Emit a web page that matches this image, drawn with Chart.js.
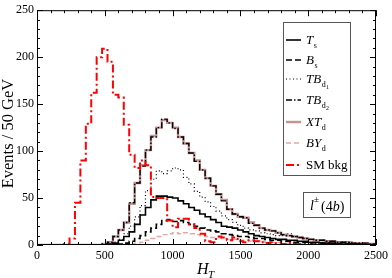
<!DOCTYPE html>
<html>
<head>
<meta charset="utf-8">
<script src="https://cdn.jsdelivr.net/npm/chart.js@4/dist/chart.umd.min.js"></script>
<style>
  html, body { margin:0; padding:0; background:#fff; }
  #wrap { width:392px; height:278px; position:relative; }
</style>
</head>
<body>
<div id="wrap"><canvas id="c" width="392" height="278"></canvas></div>
<script>
// ── Data ──────────────────────────────────────────────────────
// H_T histograms, 40 GeV bins starting at 0 (index k -> [40k, 40k+40))
const BIN_W = 40;

const Ts   = [0,0,0,0,0,0,0,0,0,0,0,0,0,0,1,2,5,9,14,22,32,40,48,52,52,51,50,47,44,40,37,33,30,27,24,20,19,18,16,14,12,10,9,8,7,6,6,5,5,4,4,3,3,2,2,2,1,1,1,1,1,0,0];
const Bs   = [0,0,0,0,0,0,0,0,0,0,0,0,0,0,0,0,1,2,4,7,10,14,18,22,26,27,25,26,24,22,20,18,16,15,14,12,11,10,9,9,8,7,7,6,5,5,4,4,3,3,3,2,2,2,2,1,1,1,1,1,0,0,0];
const TBd1 = [0,0,0,0,0,0,0,0,0,0,0,0,0,0,1,3,6,12,20,30,42,58,70,79,76,79,82,80,72,65,57,51,46,41,36,31,27,24,21,18,16,15,13,12,11,10,10,12,9,8,7,6,5,5,4,4,3,3,2,2,2,1,1];
const TBd2 = [0,0,0,0,0,0,0,0,0,0,0,0,0,1,3,9,16,24,45,66,84,101,115,125,134,130,124,115,108,98,89,80,71,63,54,47,38,33,30,29,23,21,18,16,15,13,11,10,9,8,7,6,5,5,4,4,3,3,3,2,2,2,1];
const XTd  = [0,0,0,0,0,0,0,0,0,0,0,0,0,1,3,9,16,24,44,66,85,101,116,125,133,130,125,115,108,98,90,80,71,63,54,48,38,33,30,29,24,21,18,16,15,13,11,10,9,8,7,6,5,5,4,4,3,3,3,2,2,2,1];
const BYd  = [0,0,0,0,0,0,0,0,0,0,0,0,0,0,0,0,0,0,1,2,3,5,7,9,11,12,13,12,13,12,11,10,9,8,8,7,6,6,5,5,4,4,4,3,3,3,2,2,2,2,1,1,1,1,1,1,0,0,0,0,0,0,0];
const SM   = [0,0,0,0,0,0,1,7,45,90,129,162,200,209,195,160,157,128,96,82,90,85,51,50,50,26,19,28,28,22,18,12,4,3,9,8,5,8,4,3,5,4,3,2,3,2,1,2,1,1,1,0,1,0,0,0,0,0,0,0,0,0,0];

const X_TICKS = [0, 500, 1000, 1500, 2000, 2500];
const Y_TICKS = [0, 50, 100, 150, 200, 250];

// legend labels: [italic main, subscript, sub-subscript]
const LABELS = [
  ['T', 's', ''],
  ['B', 's', ''],
  ['TB', 'd', '1'],
  ['TB', 'd', '2'],
  ['XT', 'd', ''],
  ['BY', 'd', ''],
  ['SM bkg', '', ''],
];

// ── Helpers ───────────────────────────────────────────────────
function toSteps(vals) {
  const pts = vals.map((v, k) => ({ x: k * BIN_W, y: v }));
  pts.push({ x: vals.length * BIN_W, y: vals[vals.length - 1] });
  return pts;
}

const SERIF = '"Liberation Serif", "DejaVu Serif", serif';

const series = [
  { data: Ts,   color:'#000000', width:1.6, dash:[] },
  { data: Bs,   color:'#000000', width:1.6, dash:[6,3] },
  { data: TBd1, color:'#000000', width:1.2, dash:[1,2.5] },
  { data: TBd2, color:'#000000', width:1.4, dash:[6,2,1.5,2] },
  { data: XTd,  color:'#c89090', width:2.4, dash:[] },
  { data: BYd,  color:'#e0a8a8', width:1.4, dash:[5,3] },
  { data: SM,   color:'#ff0000', width:2,   dash:[8,3,2,3] },
];

// draw order: XT_d underneath the black dash-dot it hides
const drawOrder = [4, 5, 0, 1, 2, 3, 6];

// ── Extras drawn on the canvas ────────────────────────────────
function drawLabel(ctx, x, y, lab, size) {
  const [main, sub, sub2] = lab;
  ctx.textBaseline = 'alphabetic';
  ctx.textAlign = 'left';
  const italic = sub !== '';
  ctx.font = (italic ? 'italic ' : '') + size + 'px ' + SERIF;
  ctx.fillText(main, x, y);
  let cx = x + ctx.measureText(main).width;
  if (sub) {
    ctx.font = (size * 0.62) + 'px ' + SERIF;
    ctx.fillText(sub, cx + 0.5, y + size * 0.3);
    cx += ctx.measureText(sub).width + 0.5;
    if (sub2) {
      ctx.font = (size * 0.45) + 'px ' + SERIF;
      ctx.fillText(sub2, cx + 0.3, y + size * 0.45);
    }
  }
}

const frame = {
  id: 'frame',
  afterDatasetsDraw(chart) {
    const { ctx, chartArea: a, scales: { x, y } } = chart;
    ctx.save();
    ctx.strokeStyle = '#000';
    ctx.lineWidth = 1;
    ctx.strokeRect(a.left + 0.5, a.top + 0.5, a.right - a.left - 1, a.bottom - a.top - 1);

    ctx.beginPath();
    for (let v = 0; v <= 2500; v += 100) {
      const px = Math.round(x.getPixelForValue(v)) + 0.5;
      const len = v % 500 === 0 ? 6 : 3;
      ctx.moveTo(px, a.bottom); ctx.lineTo(px, a.bottom - len);
      ctx.moveTo(px, a.top);    ctx.lineTo(px, a.top + len);
    }
    for (let v = 0; v <= 250; v += 10) {
      const py = Math.round(y.getPixelForValue(v)) + 0.5;
      const len = v % 50 === 0 ? 6 : 3;
      ctx.moveTo(a.left, py);  ctx.lineTo(a.left + len, py);
      ctx.moveTo(a.right, py); ctx.lineTo(a.right - len, py);
    }
    ctx.stroke();

    ctx.fillStyle = '#000';
    // y title
    ctx.save();
    ctx.translate(9, (a.top + a.bottom) / 2 + 6);
    ctx.rotate(-Math.PI / 2);
    ctx.font = '16.5px ' + SERIF;
    ctx.textAlign = 'center';
    ctx.textBaseline = 'middle';
    ctx.fillText('Events / 50 GeV', 0, 0);
    ctx.restore();

    // x title H_T
    ctx.font = 'italic 16px ' + SERIF;
    ctx.textAlign = 'left';
    ctx.textBaseline = 'alphabetic';
    ctx.fillText('H', 197, 274);
    ctx.font = 'italic 11px ' + SERIF;
    ctx.fillText('T', 208, 278);

    // legend box
    ctx.fillStyle = '#fff';
    ctx.fillRect(283, 22, 67, 153);
    ctx.strokeStyle = '#555';
    ctx.strokeRect(283.5, 22.5, 67, 153);
    const rows = [40, 60, 79, 100, 122, 143, 165];
    LABELS.forEach((lab, i) => {
      const s = series[i];
      ctx.beginPath();
      ctx.strokeStyle = s.color;
      ctx.lineWidth = s.width;
      ctx.setLineDash(s.dash);
      ctx.moveTo(286, rows[i]); ctx.lineTo(301, rows[i]);
      ctx.stroke();
      ctx.setLineDash([]);
      ctx.fillStyle = '#000';
      drawLabel(ctx, 306, rows[i] + 4, lab, 13);
    });

    // channel box
    ctx.fillStyle = '#fff';
    ctx.fillRect(303, 192, 47, 25);
    ctx.strokeStyle = '#555';
    ctx.lineWidth = 1;
    ctx.strokeRect(303.5, 192.5, 47, 25);
    ctx.fillStyle = '#000';
    ctx.font = 'italic 14px ' + SERIF;
    ctx.fillText('l', 310, 210);
    ctx.font = '9px ' + SERIF;
    ctx.fillText('\u00b1', 314, 202);
    ctx.font = '14px ' + SERIF;
    ctx.fillText('(4', 321, 211);
    let cx = 321 + ctx.measureText('(4').width;
    ctx.font = 'italic 14px ' + SERIF;
    ctx.fillText('b', cx, 211);
    cx += ctx.measureText('b').width;
    ctx.font = '14px ' + SERIF;
    ctx.fillText(')', cx, 211);
    ctx.restore();
  }
};

// ── Chart ─────────────────────────────────────────────────────
new Chart(document.getElementById('c'), {
  type: 'line',
  data: {
    datasets: drawOrder.map(i => ({
      label:       LABELS[i].join(''),
      data:        toSteps(series[i].data),
      borderColor: series[i].color,
      borderWidth: series[i].width,
      borderDash:  series[i].dash,
      stepped:     'after',
      pointRadius: 0,
      fill:        false,
      order:       drawOrder.length - drawOrder.indexOf(i),
    }))
  },
  options: {
    responsive: false,
    animation: false,
    events: [],
    layout: { padding: { top: 6, right: 14, left: 0, bottom: 0 } },
    plugins: { legend: { display: false }, tooltip: { enabled: false } },
    scales: {
      x: {
        type: 'linear', min: 0, max: 2500,
        afterBuildTicks: s => { s.ticks = X_TICKS.map(v => ({ value: v })); },
        afterFit: s => { s.height = 33; },
        grid: { display: false, drawTicks: false },
        border: { display: false },
        ticks: { color:'#000', padding: 4, maxRotation: 0, autoSkip: false,
                 callback: v => String(v), font: { family: SERIF, size: 12 } },
      },
      y: {
        type: 'linear', min: 0, max: 250,
        afterBuildTicks: s => { s.ticks = Y_TICKS.map(v => ({ value: v })); },
        afterFit: s => { s.width = 37; },
        grid: { display: false, drawTicks: false },
        border: { display: false },
        ticks: { color:'#000', padding: 3, callback: v => String(v),
                 font: { family: SERIF, size: 12 } },
      }
    }
  },
  plugins: [frame]
});
</script>
</body>
</html>
